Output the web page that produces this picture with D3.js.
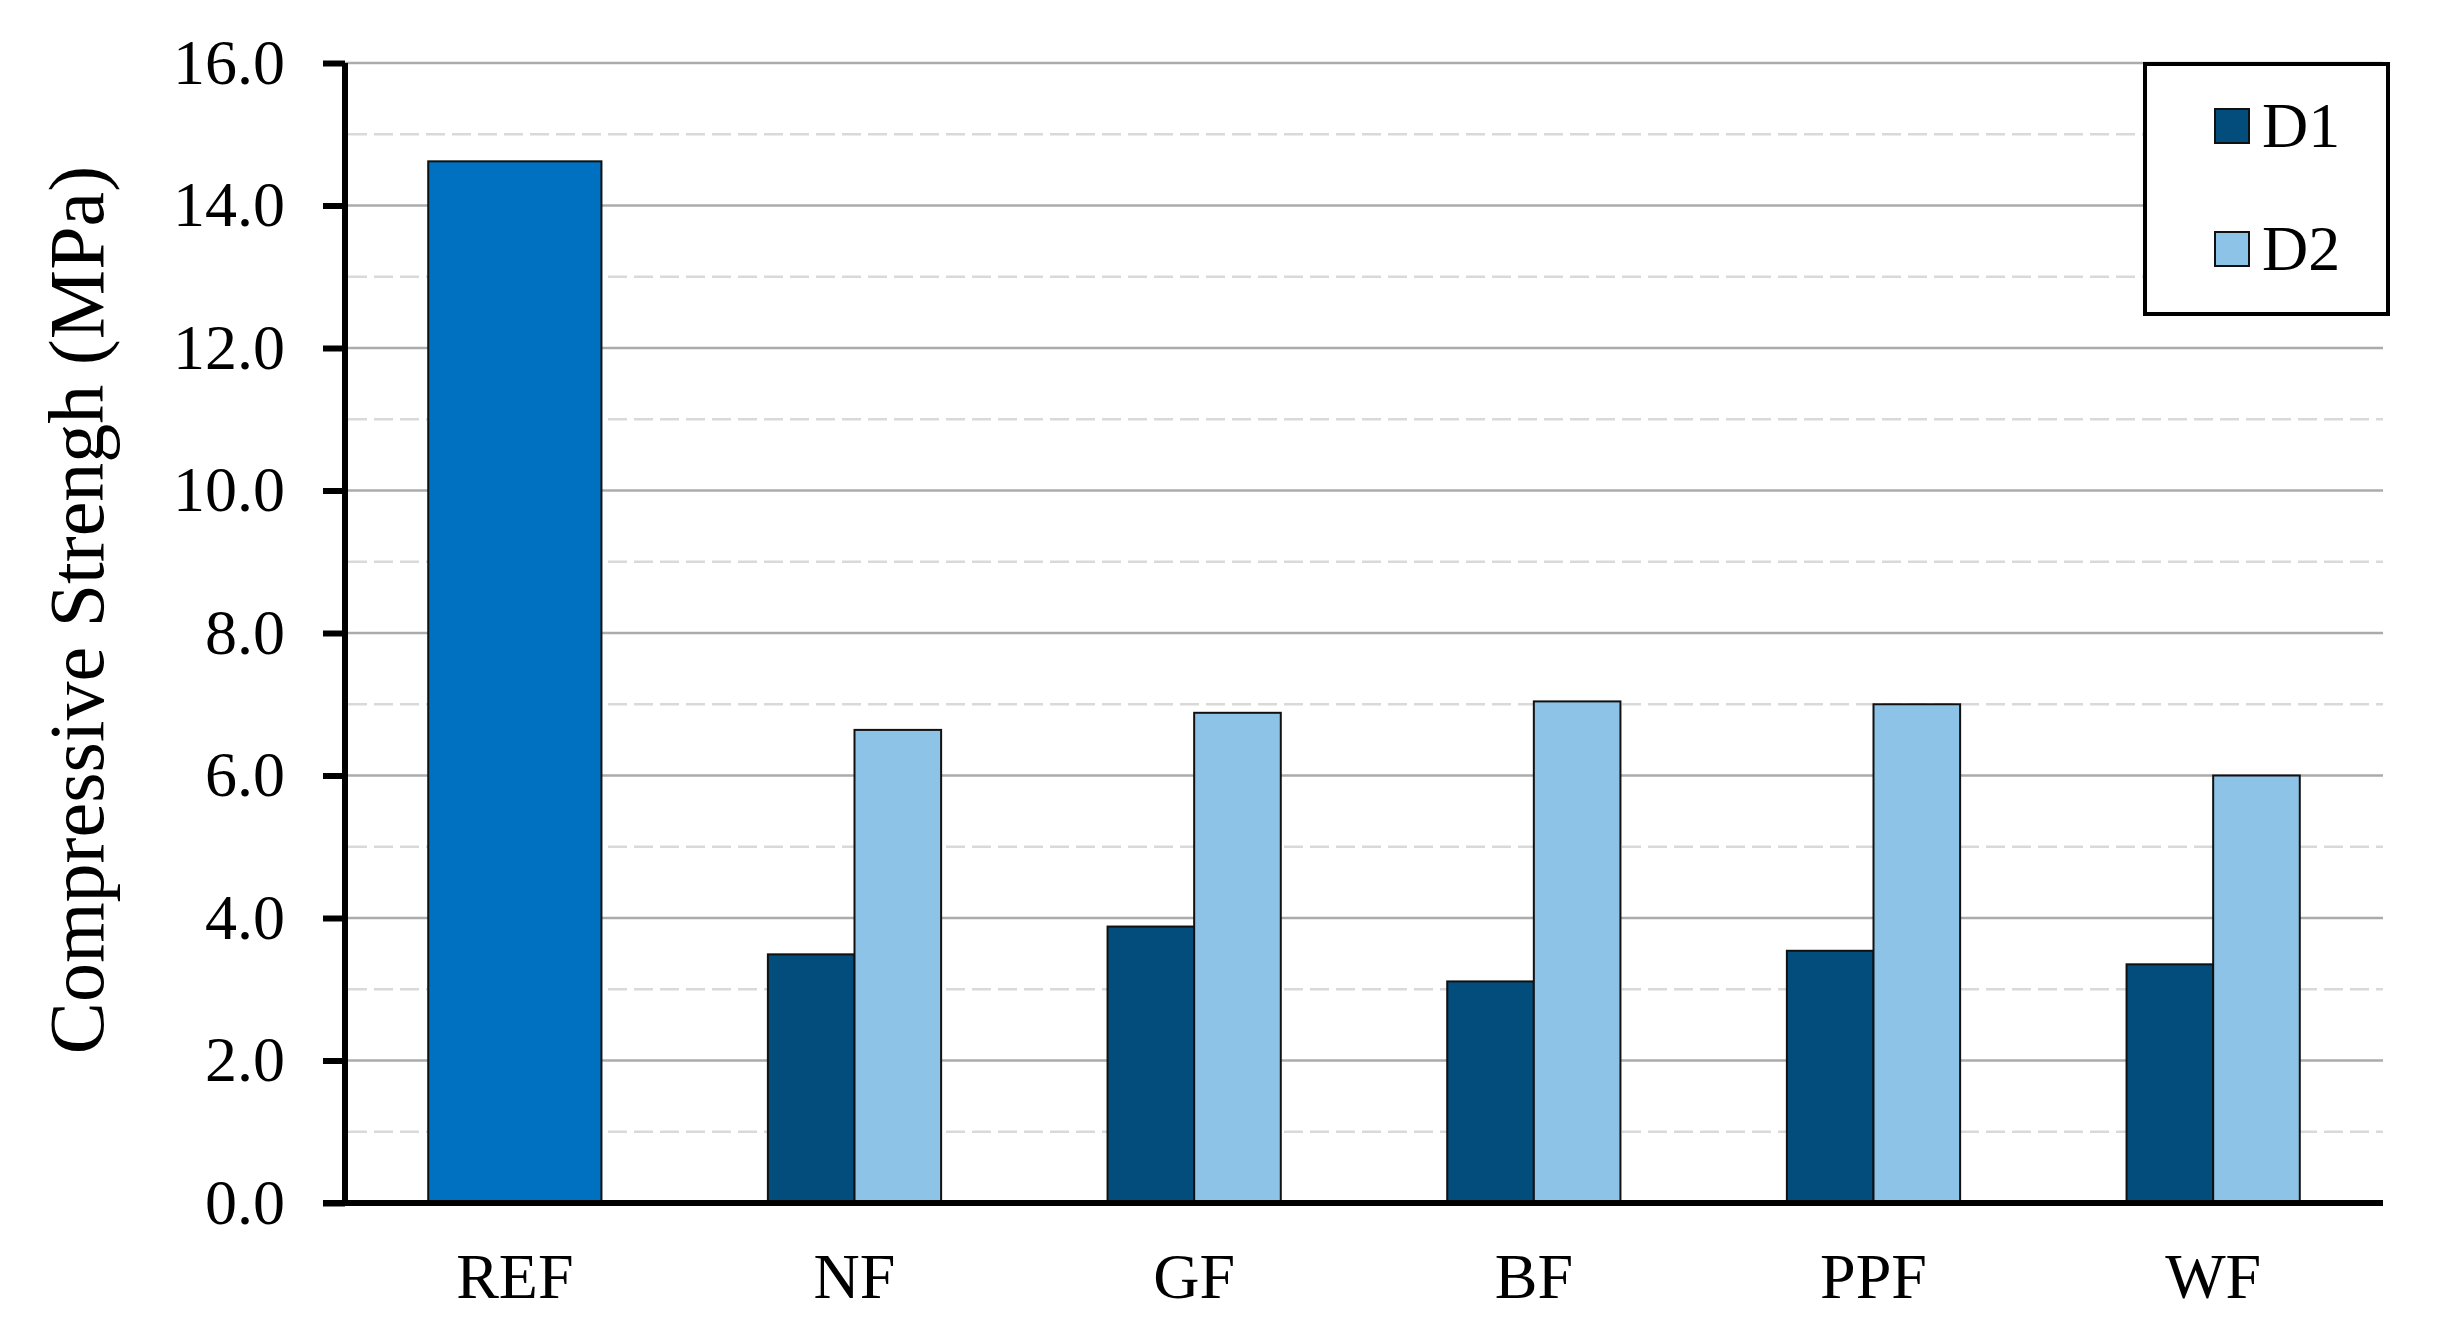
<!DOCTYPE html>
<html>
<head>
<meta charset="utf-8">
<title>Compressive strength</title>
<script src="https://cdnjs.cloudflare.com/ajax/libs/d3/7.8.5/d3.min.js"></script>
<style>
  body { margin: 0; background: #fff; }
  text { font-family: "Liberation Serif", "Times New Roman", serif; fill: #000; }
</style>
</head>
<body>
<div id="chart"></div>
<script>
// data
var categories = ["REF", "NF", "GF", "BF", "PPF", "WF"];
var refValue = 14.62;
var d1Values = [null, 3.49, 3.88, 3.11, 3.54, 3.35];
var d2Values = [null, 6.64, 6.88, 7.04, 7.00, 6.00];
var seriesNames = ["D1", "D2"];
var majorTicks = [0, 2, 4, 6, 8, 10, 12, 14, 16];
var minorTicks = [1, 3, 5, 7, 9, 11, 13, 15];

var width = 2460, height = 1332;
var margin = {top: 63, right: 77, bottom: 129, left: 345};

var colors = {REF: "#0070c0", D1: "#024d7b", D2: "#8dc3e6"};

var svg = d3.select("#chart").append("svg")
    .attr("width", width)
    .attr("height", height);

var x = d3.scaleBand()
    .domain(categories)
    .range([margin.left, width - margin.right])
    .paddingInner(0.49)
    .paddingOuter(0.245);

var xSub = d3.scaleBand()
    .domain(seriesNames)
    .range([0, x.bandwidth()]);

var y = d3.scaleLinear()
    .domain([0, 16])
    .range([height - margin.bottom, margin.top]);

// grid lines
svg.append("g").selectAll("line.minor")
    .data(minorTicks)
    .enter().append("line")
    .attr("class", "minor")
    .attr("x1", margin.left + 3)
    .attr("x2", width - margin.right)
    .attr("y1", d => y(d))
    .attr("y2", d => y(d))
    .attr("stroke", "#d9d9d9")
    .attr("stroke-width", 2.5)
    .attr("stroke-dasharray", "19,7");

svg.append("g").selectAll("line.major")
    .data(majorTicks.slice(1))
    .enter().append("line")
    .attr("class", "major")
    .attr("x1", margin.left)
    .attr("x2", width - margin.right)
    .attr("y1", d => y(d))
    .attr("y2", d => y(d))
    .attr("stroke", "#ababab")
    .attr("stroke-width", 2.5);

// bars
svg.append("rect")
    .attr("x", x("REF"))
    .attr("y", y(refValue))
    .attr("width", x.bandwidth())
    .attr("height", y(0) - y(refValue))
    .attr("fill", colors.REF)
    .attr("stroke", "#111")
    .attr("stroke-width", 2);

var groups = [];
categories.forEach(function (c, i) {
    if (d1Values[i] != null) groups.push({cat: c, key: "D1", value: d1Values[i]});
    if (d2Values[i] != null) groups.push({cat: c, key: "D2", value: d2Values[i]});
});

svg.append("g").selectAll("rect")
    .data(groups)
    .enter().append("rect")
    .attr("x", d => x(d.cat) + xSub(d.key))
    .attr("y", d => y(d.value))
    .attr("width", xSub.bandwidth())
    .attr("height", d => y(0) - y(d.value))
    .attr("fill", d => colors[d.key])
    .attr("stroke", "#111")
    .attr("stroke-width", 2);

// y axis
var yAxis = d3.axisLeft(y)
    .tickValues(majorTicks)
    .tickFormat(d3.format(".1f"))
    .tickSize(22)
    .tickPadding(38);

var yg = svg.append("g")
    .attr("transform", "translate(" + margin.left + ",0)")
    .call(yAxis);
yg.select(".domain").attr("stroke", "#000").attr("stroke-width", 6)
    .attr("d", "M0," + y(16) + "V" + y(0));
yg.selectAll(".tick line").attr("stroke", "#000").attr("stroke-width", 6);
yg.selectAll(".tick text")
    .style("font-size", "64px")
    .style("font-family", "'Liberation Serif', serif")
    .attr("fill", "#000");

// x axis baseline
svg.append("line")
    .attr("x1", margin.left - 22)
    .attr("x2", width - margin.right)
    .attr("y1", y(0))
    .attr("y2", y(0))
    .attr("stroke", "#000")
    .attr("stroke-width", 6);

svg.append("g").selectAll("text")
    .data(categories)
    .enter().append("text")
    .attr("x", d => x(d) + x.bandwidth() / 2)
    .attr("y", 1298)
    .attr("text-anchor", "middle")
    .style("font-size", "64px")
    .text(d => d);

// y title
svg.append("text")
    .attr("transform", "translate(103," + 610 + ") rotate(-90)")
    .attr("text-anchor", "middle")
    .style("font-size", "78px")
    .text("Compressive Strengh (MPa)");

// legend
var legend = svg.append("g");
legend.append("rect")
    .attr("x", 2145)
    .attr("y", 64)
    .attr("width", 243)
    .attr("height", 250)
    .attr("fill", "#fff")
    .attr("stroke", "#000")
    .attr("stroke-width", 4);

var items = legend.selectAll("g.item")
    .data(seriesNames)
    .enter().append("g")
    .attr("class", "item")
    .attr("transform", (d, i) => "translate(2215," + (109 + i * 123) + ")");
items.append("rect")
    .attr("width", 34)
    .attr("height", 34)
    .attr("fill", d => colors[d])
    .attr("stroke", "#111")
    .attr("stroke-width", 2);
items.append("text")
    .attr("x", 47)
    .attr("y", 38)
    .style("font-size", "64px")
    .text(d => d);
</script>
</body>
</html>
